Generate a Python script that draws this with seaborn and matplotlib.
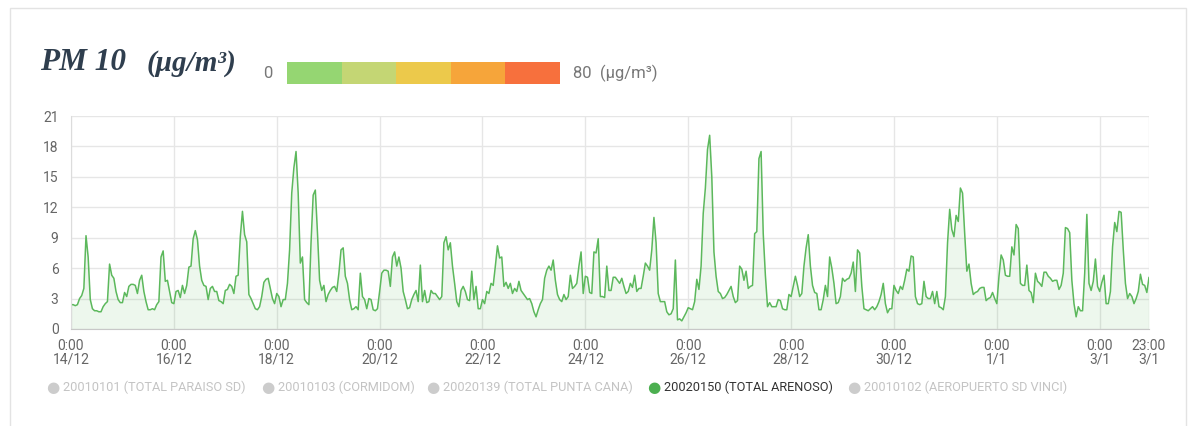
import numpy as np
import pandas as pd
import matplotlib
matplotlib.use("Agg")
import matplotlib.pyplot as plt
from matplotlib.patches import Rectangle
import seaborn as sns

# ---------------- data (hourly PM10, µg/m³) ----------------
day_labels = ["14/12", "16/12", "18/12", "20/12", "22/12", "24/12",
              "26/12", "28/12", "30/12", "1/1", "3/1"]
end_label = "23:00\n3/1"

d14 = [2.4, 2.4, 2.3, 2.4, 3.0, 3.3, 4.0, 9.2, 7.1, 2.9, 2.0, 1.8, 1.8, 1.7, 1.7, 2.2, 2.5, 2.7, 6.4, 5.3, 5.0, 3.7, 2.9, 2.6]
d15 = [2.6, 3.6, 3.2, 4.2, 4.4, 4.4, 4.3, 3.5, 4.8, 5.3, 3.7, 2.7, 1.9, 1.9, 2.0, 1.9, 2.4, 2.7, 7.1, 7.7, 4.7, 4.8, 3.7, 2.6]
d16 = [2.5, 3.7, 3.8, 3.1, 4.3, 3.5, 4.3, 6.1, 6.2, 8.9, 9.7, 8.8, 6.2, 4.8, 4.3, 4.2, 2.9, 4.0, 4.2, 3.7, 3.7, 2.8, 2.7, 2.5]
d17 = [3.8, 3.9, 4.4, 4.2, 3.5, 5.2, 5.3, 9.1, 11.6, 9.3, 8.6, 3.4, 3.0, 2.5, 2.0, 1.9, 2.2, 3.2, 4.6, 4.9, 5.0, 4.0, 3.0, 2.5]
d18 = [3.5, 3.2, 2.2, 2.9, 2.9, 4.5, 7.8, 13.4, 15.9, 17.5, 13.4, 6.5, 7.1, 2.9, 2.6, 2.4, 8.5, 13.2, 13.7, 9.5, 4.8, 3.8, 4.3, 2.7]
d19 = [3.4, 3.8, 4.1, 4.2, 3.7, 5.5, 7.8, 8.0, 5.2, 4.5, 2.9, 1.9, 2.0, 2.2, 1.9, 5.5, 3.2, 2.9, 2.0, 3.0, 2.9, 1.9, 1.8, 2.0]
d20 = [3.7, 5.5, 5.8, 5.8, 5.7, 4.2, 7.1, 7.6, 6.2, 7.1, 6.0, 3.7, 2.9, 2.0, 2.1, 2.9, 3.4, 3.8, 2.7, 6.3, 2.7, 3.8, 2.6, 2.7]
d21 = [3.8, 3.5, 3.5, 3.2, 2.9, 3.2, 8.5, 9.1, 7.8, 8.5, 6.2, 4.5, 2.7, 2.2, 3.8, 4.2, 3.7, 2.9, 2.8, 5.7, 2.9, 4.2, 2.0, 2.0]
d22 = [2.9, 2.5, 3.7, 3.5, 4.5, 4.3, 6.2, 8.2, 7.0, 7.1, 4.2, 4.6, 4.0, 4.5, 3.5, 4.0, 3.7, 4.7, 3.8, 3.5, 3.2, 2.9, 3.0, 2.5]
d23 = [1.7, 1.2, 1.9, 2.5, 2.9, 5.0, 5.8, 6.2, 5.8, 6.8, 4.8, 3.4, 2.9, 2.7, 3.4, 2.9, 3.2, 5.3, 4.0, 4.2, 4.5, 6.2, 7.6, 3.5]
d24 = [5.2, 5.1, 3.6, 3.5, 7.6, 7.5, 8.9, 3.2, 3.2, 3.1, 6.2, 3.8, 3.8, 5.1, 5.1, 4.8, 4.5, 5.0, 4.2, 3.5, 3.7, 4.5, 4.1, 5.3]
d25 = [3.7, 4.0, 4.0, 5.2, 6.5, 6.2, 5.8, 7.8, 11.0, 8.5, 3.5, 2.7, 2.7, 2.7, 1.7, 1.4, 1.5, 2.0, 6.8, 0.9, 1.0, 0.8, 1.2, 1.6]
d26 = [2.1, 2.0, 1.9, 2.7, 4.9, 3.9, 6.2, 11.4, 13.9, 17.7, 19.1, 15.0, 7.6, 5.2, 3.7, 3.5, 3.0, 3.1, 3.4, 3.8, 4.2, 3.2, 2.6, 2.8]
d27 = [6.2, 5.9, 4.8, 5.7, 4.0, 4.2, 4.3, 9.4, 9.6, 16.8, 17.5, 9.4, 5.3, 2.2, 2.6, 2.2, 2.2, 2.2, 2.9, 2.8, 2.0, 1.9, 1.9, 3.4]
d28 = [3.2, 4.2, 5.2, 4.3, 3.2, 3.5, 6.2, 8.0, 9.3, 6.2, 4.3, 3.6, 3.5, 1.9, 1.9, 2.9, 4.3, 3.2, 7.1, 6.0, 4.5, 2.5, 2.6, 3.2]
d29 = [5.0, 4.7, 4.9, 5.0, 5.5, 6.6, 3.7, 7.8, 7.5, 4.2, 2.0, 1.9, 1.8, 2.0, 2.2, 1.9, 2.2, 2.7, 3.4, 4.5, 2.5, 1.6, 2.0, 2.0]
d30 = [4.3, 3.8, 3.5, 4.2, 3.9, 4.8, 5.9, 5.7, 7.2, 7.1, 3.2, 2.5, 2.4, 2.5, 4.7, 3.2, 3.0, 3.0, 3.7, 2.5, 3.7, 2.2, 2.1, 1.9]
d31 = [3.2, 8.5, 11.8, 9.8, 9.1, 11.2, 10.6, 13.9, 13.4, 9.4, 5.7, 6.4, 4.5, 3.4, 3.6, 3.7, 4.0, 4.1, 4.1, 2.8, 3.0, 3.1, 3.6, 3.0]
d01 = [2.5, 5.2, 7.3, 6.8, 5.3, 5.2, 5.2, 8.1, 7.3, 10.3, 9.9, 4.5, 4.3, 4.3, 6.3, 3.8, 3.6, 2.6, 5.5, 4.7, 4.5, 4.2, 5.6, 5.6]
d02 = [5.2, 5.0, 4.7, 4.8, 4.8, 3.9, 4.3, 5.5, 10.0, 9.9, 9.5, 4.8, 2.5, 1.2, 2.2, 1.8, 1.8, 5.5, 11.3, 4.5, 3.8, 4.7, 6.9, 4.2]
d03 = [3.7, 4.6, 5.3, 2.5, 2.5, 3.7, 8.1, 10.5, 9.6, 11.6, 11.5, 7.8, 4.5, 3.0, 3.5, 3.2, 2.5, 3.0, 3.7, 5.4, 4.4, 4.3, 3.6, 5.1]

legend_names = ["20010101 (TOTAL PARAISO SD)", "20010103 (CORMIDOM)",
                "20020139 (TOTAL PUNTA CANA)", "20020150 (TOTAL ARENOSO)",
                "20010102 (AEROPUERTO SD VINCI)"]
legend_active = [False, False, False, True, False]

scale_colors = ["#95d672", "#c4d674", "#ecc94b", "#f6a53a", "#f7703d"]

days = [d14, d15, d16, d17, d18, d19, d20, d21, d22, d23, d24, d25, d26, d27,
        d28, d29, d30, d31, d01, d02, d03]
values = np.concatenate(days)
df = pd.DataFrame({"hour": np.arange(len(values)), "pm10": values})

# ---------------- figure ----------------
sns.set_style("white")
plt.rcParams["font.family"] = ["Roboto", "DejaVu Sans"]

W, H = 1197, 426
fig = plt.figure(figsize=(W / 100, H / 100), dpi=100)

def fx(px):
    return px / W

def fy(py):
    return 1 - py / H

# card border
fig.add_artist(Rectangle((fx(10), -0.1), fx(1186 - 10), fy(8) + 0.1,
                         transform=fig.transFigure, fill=False,
                         edgecolor="#e3e3e3", lw=1))

ax = fig.add_axes([fx(71), fy(329), fx(1149 - 71), (329 - 116) / H])

line_color = "#5cb85c"
sns.lineplot(data=df, x="hour", y="pm10", ax=ax, color=line_color, lw=1.1)
ax.fill_between(df["hour"], df["pm10"], color=line_color, alpha=0.11, lw=0)

ax.set_xlim(0, len(values) - 1)
ax.set_ylim(0, 21)
tick_pos = list(range(0, 481, 48)) + [len(values) - 1]
tick_lab = ["0:00\n" + d for d in day_labels] + [end_label]
ax.set_xticks(tick_pos)
ax.set_xticklabels(tick_lab, linespacing=1.0)
ax.set_yticks(range(0, 22, 3))
ax.set_xlabel("")
ax.set_ylabel("")
ax.grid(True, color="#e6e6e6", lw=1)
ax.set_axisbelow(True)
for s in ["top", "right"]:
    ax.spines[s].set_visible(False)
ax.spines["left"].set_color("#dcdcdc")
ax.spines["bottom"].set_color("#c8c8c8")
ax.tick_params(axis="x", length=5, color="#c8c8c8", labelcolor="#666666",
               labelsize=10, pad=2)
ax.tick_params(axis="y", length=5, color="#e6e6e6", labelcolor="#666666",
               labelsize=10, pad=4)

# ---------------- title ----------------
title_color = "#2f3e4e"
fig.text(fx(40), fy(70), "PM 10", fontsize=22.5, fontweight="bold",
         fontstyle="italic", family=["Liberation Serif", "DejaVu Serif"],
         color=title_color, ha="left", va="baseline")
fig.text(fx(147), fy(71), "(μg/m³)", fontsize=21, fontweight="bold",
         fontstyle="italic", family=["Liberation Serif", "DejaVu Serif"],
         color=title_color, ha="left", va="baseline")

# colour scale
x0, x1 = 287, 560
seg = (x1 - x0) / len(scale_colors)
for i, c in enumerate(scale_colors):
    fig.add_artist(Rectangle((fx(x0 + i * seg), fy(84)), fx(seg), (84 - 62) / H,
                             transform=fig.transFigure, facecolor=c,
                             edgecolor="none"))
fig.text(fx(268), fy(73), "0", fontsize=12, color="#777777",
         ha="center", va="center")
fig.text(fx(573), fy(73), "80  (μg/m³)", fontsize=12, color="#777777",
         ha="left", va="center")

# ---------------- legend ----------------
leg_x = [53, 268, 433, 654, 854]
for xpos, name, act in zip(leg_x, legend_names, legend_active):
    fig.text(fx(xpos), fy(387), "●", fontsize=11,
             color="#4caf50" if act else "#cccccc",
             ha="center", va="center", family=["DejaVu Sans"])
    fig.text(fx(xpos + 10), fy(387), name, fontsize=9.2,
             color="#333333" if act else "#c4c4c4", ha="left", va="center")

fig.savefig("out.png", dpi=100)
